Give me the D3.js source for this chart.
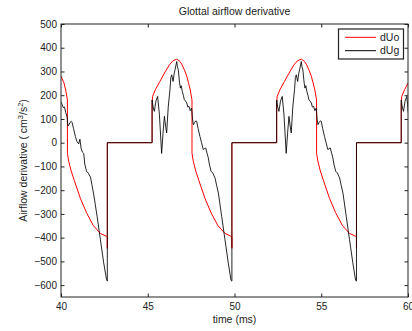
<!DOCTYPE html>
<html>
<head>
<meta charset="utf-8">
<script src="https://cdn.jsdelivr.net/npm/d3@7"></script>
<style>
  body { margin: 0; background: #fff; }
  text { font-family: "Liberation Sans", Arial, sans-serif; fill: #222; }
</style>
</head>
<body>
<div id="chart"></div>
<script>
// dUo (red) : time in ms and value in cm^3/s^2
var uoTime = [
  40.00, 40.17, 40.27, 40.37, 40.37, 40.45, 40.57, 40.77, 41.12, 41.47, 41.87, 42.27, 42.67, 42.67, 42.67,
  45.25, 45.25, 45.28, 45.45, 45.70, 46.00, 46.25, 46.45, 46.67, 46.85, 46.98, 47.12, 47.25, 47.35, 47.45, 47.55,
  47.55, 47.63, 47.75, 47.95, 48.30, 48.65, 49.05, 49.45, 49.85, 49.85, 49.85,
  52.43, 52.43, 52.46, 52.63, 52.88, 53.18, 53.43, 53.63, 53.85, 54.03, 54.16, 54.30, 54.43, 54.53, 54.63, 54.73,
  54.73, 54.81, 54.93, 55.13, 55.48, 55.83, 56.23, 56.63, 57.03, 57.03, 57.03,
  59.61, 59.61, 59.64, 59.81, 60.06
];
var dUo = [
  280, 252, 222, 180, -45, -80, -115, -160, -235, -295, -350, -382, -396, -445, 0,
  0, 165, 195, 225, 258, 298, 328, 345, 352, 343, 328, 305, 280, 252, 222, 180,
  -45, -80, -115, -160, -235, -295, -350, -382, -396, -445, 0,
  0, 165, 195, 225, 258, 298, 328, 345, 352, 343, 328, 305, 280, 252, 222, 180,
  -45, -80, -115, -160, -235, -295, -350, -382, -396, -445, 0,
  0, 165, 195, 225, 258
];

// dUg (black)
var ugTime = [
  40.00, 40.07, 40.13, 40.20, 40.27, 40.35, 40.40, 40.45, 40.52, 40.59, 40.64, 40.72, 40.83, 40.92, 41.02,
  41.09, 41.16, 41.24, 41.31, 41.37, 41.47, 41.57, 41.70, 41.79, 41.89, 42.08, 42.27, 42.46, 42.62, 42.67, 42.67,
  45.25, 45.25, 45.31, 45.38, 45.47, 45.57, 45.67, 45.80, 45.88, 45.96, 46.03, 46.09, 46.18, 46.28, 46.33,
  46.38, 46.46, 46.52, 46.57, 46.67, 46.71, 46.76, 46.83, 46.88, 46.93, 46.99, 47.05, 47.11, 47.18, 47.25,
  47.31, 47.38, 47.45, 47.53, 47.58, 47.63, 47.70, 47.77, 47.82, 47.90, 48.01, 48.10, 48.20, 48.27, 48.34,
  48.42, 48.49, 48.55, 48.65, 48.75, 48.88, 48.97, 49.07, 49.26, 49.45, 49.64, 49.80, 49.85, 49.85,
  52.43, 52.43, 52.49, 52.56, 52.65, 52.75, 52.85, 52.98, 53.06, 53.14, 53.21, 53.27, 53.36, 53.46, 53.51,
  53.56, 53.64, 53.70, 53.75, 53.85, 53.89, 53.94, 54.01, 54.06, 54.11, 54.17, 54.23, 54.29, 54.36, 54.43,
  54.49, 54.56, 54.63, 54.71, 54.76, 54.81, 54.88, 54.95, 55.00, 55.08, 55.19, 55.28, 55.38, 55.45, 55.52,
  55.60, 55.67, 55.73, 55.83, 55.93, 56.06, 56.15, 56.25, 56.44, 56.63, 56.82, 56.98, 57.03, 57.03,
  59.61, 59.61, 59.67, 59.74, 59.83, 59.93, 60.03
];
var dUg = [
  172, 160, 148, 150, 128, 108, 70, 75, 85, 90, 85, 60, 26, 5, -5,
  15, -25, -40, -45, -90, -120, -128, -145, -180, -220, -310, -408, -506, -575, -583, 0,
  0, 180, 150, 132, 175, 195, 120, -45, 40, 111, 70, 41, 150, 223, 275,
  286, 258, 290, 307, 342, 320, 307, 255, 230, 240, 216, 200, 181, 175, 167,
  150, 153, 135, 146, 100, 76, 85, 92, 90, 60, 26, 0, -29, -25, -22,
  -45, -64, -90, -120, -128, -149, -180, -212, -310, -408, -506, -580, -583, 0,
  0, 180, 150, 132, 175, 195, 120, -45, 40, 111, 70, 41, 150, 223, 275,
  286, 258, 290, 307, 342, 320, 307, 255, 230, 240, 216, 200, 181, 175, 167,
  150, 153, 135, 146, 100, 76, 85, 92, 90, 60, 26, 0, -29, -25, -22,
  -45, -64, -90, -120, -128, -149, -180, -212, -310, -408, -506, -580, -583, 0,
  0, 180, 150, 132, 175, 195, 120
];

var xTicks = [40, 45, 50, 55, 60];
var yTicks = [-600, -500, -400, -300, -200, -100, 0, 100, 200, 300, 400, 500];
var seriesNames = ["dUo", "dUg"];
var seriesColors = ["#ff0000", "#000000"];

var width = 412, height = 331;
var margin = {top: 24, right: 4, bottom: 34, left: 61};
var w = width - margin.left - margin.right,
    h = height - margin.top - margin.bottom;

var svg = d3.select("#chart").append("svg")
    .attr("width", width)
    .attr("height", height);

var g = svg.append("g")
    .attr("transform", "translate(" + margin.left + "," + margin.top + ")");

var x = d3.scaleLinear().domain([40, 60]).range([0, w]);
var y = d3.scaleLinear().domain([-650, 500]).range([h, 0]);

svg.append("defs").append("clipPath")
    .attr("id", "plot-clip")
  .append("rect")
    .attr("width", w)
    .attr("height", h);

// axes, ticks point inwards like matlab
function styleAxis(sel, labels) {
  sel.select(".domain").remove();
  sel.selectAll(".tick line").attr("stroke", "#222");
  sel.selectAll("text").style("font-size", "10px").attr("fill", "#222");
  if (!labels) sel.selectAll("text").remove();
}

g.append("g")
    .attr("transform", "translate(0," + h + ")")
    .call(d3.axisBottom(x).tickValues(xTicks).tickSize(-3.5).tickPadding(6).tickFormat(d3.format("d")))
    .call(styleAxis, true);
g.append("g")
    .call(d3.axisTop(x).tickValues(xTicks).tickSize(-3.5))
    .call(styleAxis, false);
g.append("g")
    .call(d3.axisLeft(y).tickValues(yTicks).tickSize(-3.5).tickPadding(4))
    .call(styleAxis, true);
g.append("g")
    .attr("transform", "translate(" + w + ",0)")
    .call(d3.axisRight(y).tickValues(yTicks).tickSize(-3.5))
    .call(styleAxis, false);

var line = d3.line()
    .x(function(d) { return x(d[0]); })
    .y(function(d) { return y(d[1]); });

var plot = g.append("g").attr("clip-path", "url(#plot-clip)");

plot.append("path")
    .datum(d3.zip(uoTime, dUo))
    .attr("fill", "none")
    .attr("stroke", seriesColors[0])
    .attr("stroke-width", 1)
    .attr("d", line);

plot.append("path")
    .datum(d3.zip(ugTime, dUg))
    .attr("fill", "none")
    .attr("stroke", seriesColors[1])
    .attr("stroke-opacity", 0.85)
    .attr("stroke-width", 1)
    .attr("d", line);

// frame
g.append("rect")
    .attr("width", w)
    .attr("height", h)
    .attr("fill", "none")
    .attr("stroke", "#222")
    .attr("stroke-width", 1);

// titles
svg.append("text")
    .attr("x", margin.left + w / 2)
    .attr("y", 14.5)
    .attr("text-anchor", "middle")
    .style("font-size", "10.5px")
    .text("Glottal airflow derivative");

svg.append("text")
    .attr("x", margin.left + w / 2)
    .attr("y", 323)
    .attr("text-anchor", "middle")
    .style("font-size", "10.5px")
    .text("time (ms)");

var ylab = svg.append("text")
    .attr("transform", "translate(27," + (margin.top + h / 2) + ") rotate(-90)")
    .attr("text-anchor", "middle")
    .style("font-size", "10.5px");
ylab.append("tspan").text("Airflow derivative ( cm");
ylab.append("tspan").attr("baseline-shift", "super").style("font-size", "7.5px").text("3");
ylab.append("tspan").text("/s");
ylab.append("tspan").attr("baseline-shift", "super").style("font-size", "7.5px").text("2");
ylab.append("tspan").text(")");

// legend
var legend = svg.append("g").attr("transform", "translate(338.5,29)");
legend.append("rect")
    .attr("width", 65)
    .attr("height", 30)
    .attr("fill", "#fff")
    .attr("stroke", "#222")
    .attr("stroke-width", 1.2);

seriesNames.forEach(function(name, i) {
  var row = legend.append("g").attr("transform", "translate(0," + (8.3 + i * 13.4) + ")");
  row.append("line")
      .attr("x1", 6.5).attr("x2", 37.5)
      .attr("stroke", seriesColors[i])
      .attr("stroke-width", 1);
  row.append("text")
      .attr("x", 41.5)
      .attr("y", 3.7)
      .style("font-size", "10.5px")
      .text(name);
});
</script>
</body>
</html>
